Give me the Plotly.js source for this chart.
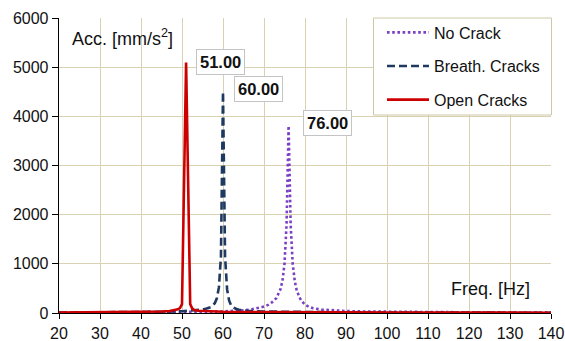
<!DOCTYPE html>
<html>
<head>
<meta charset="utf-8">
<script src="https://cdn.plot.ly/plotly-3.0.1.min.js"></script>
<style>html,body{margin:0;padding:0;background:#fff;}#chart{width:565px;height:341px;}</style>
</head>
<body>
<div id="chart"></div>
<script>
// Series names
var seriesNames = ["No Crack", "Breath. Cracks", "Open Cracks"];

// No Crack (peak at 76 Hz)
var freqNoCrack = [20, 30, 40, 50, 55, 60, 63, 65, 67, 69, 70, 71, 72, 73, 74, 74.5, 75, 75.5, 76, 76.5, 77, 77.5, 78, 79, 80, 81, 82, 84, 86, 90, 95, 100, 110, 120, 130, 140];
var accNoCrack  = [8, 10, 13, 18, 24, 32, 42, 55, 75, 105, 130, 165, 220, 300, 480, 650, 1000, 1800, 3805, 1800, 1000, 650, 450, 260, 170, 125, 95, 70, 55, 40, 30, 24, 18, 14, 11, 9];

// Breath. Cracks (peak at 60 Hz)
var freqBreath = [20, 30, 40, 45, 50, 53, 55, 56, 57, 58, 58.5, 59, 59.5, 60, 60.5, 61, 61.5, 62, 63, 64, 66, 70, 80, 90, 100, 120, 140];
var accBreath  = [10, 12, 18, 24, 35, 50, 70, 90, 120, 200, 300, 520, 1150, 4504, 1150, 480, 250, 150, 90, 62, 45, 30, 18, 13, 10, 7, 5];

// Open Cracks (peak at 51 Hz)
var freqOpen = [20, 25, 30, 35, 40, 45, 47, 48, 49, 49.5, 50, 51, 52, 52.5, 53, 54, 56, 60, 65, 70, 80, 90, 100, 110, 120, 130, 140];
var accOpen  = [10, 12, 14, 17, 21, 30, 40, 50, 75, 100, 180, 5095, 180, 90, 60, 45, 35, 26, 21, 17, 14, 12, 10, 9, 8, 7, 6];

// Peak labels
var peakFreqs  = [51, 60, 76];
var peakLabels = ["51.00", "60.00", "76.00"];
var peakAccs   = [5095, 4504, 3805];

// Axis ticks
var xTicks = [20, 30, 40, 50, 60, 70, 80, 90, 100, 110, 120, 130, 140];
var yTicks = [0, 1000, 2000, 3000, 4000, 5000, 6000];

var FONT = "Liberation Sans, Arial, sans-serif";
var GRID = "#d9d2b2";

var traces = [
  {x: freqNoCrack, y: accNoCrack, name: seriesNames[0], type: "scatter", mode: "lines",
   legendgroup: "a", line: {color: "#7b3fc4", width: 2.6, dash: "2.6px,2.6px"}},
  {x: freqBreath, y: accBreath, name: seriesNames[1], type: "scatter", mode: "lines",
   legendgroup: "b", line: {color: "#1f3a60", width: 2.6, dash: "8px,4px"}},
  {x: freqOpen, y: accOpen, name: seriesNames[2], type: "scatter", mode: "lines",
   legendgroup: "c", line: {color: "#cc0000", width: 2.6}}
];

// label offsets (in data units) from each peak
var labelDx = [8.5, 8.6, 9.6];
var labelDy = [10, 50, 60];

var annotations = [];
for (var i = 0; i < peakFreqs.length; i++) {
  annotations.push({
    x: peakFreqs[i] + labelDx[i], y: peakAccs[i] + labelDy[i], xref: "x", yref: "y",
    text: "<b>" + peakLabels[i] + "</b>", showarrow: false,
    font: {family: FONT, size: 16.5, color: "#111"},
    bgcolor: "#ffffff", bordercolor: "#c4c4c4", borderwidth: 1, borderpad: 3
  });
}
annotations.push({
  x: 0.022, y: 0.935, xref: "paper", yref: "paper", xanchor: "left", yanchor: "middle",
  text: "Acc. [mm/s<sup>2</sup>]", showarrow: false,
  font: {family: FONT, size: 18, color: "#111"}
});
annotations.push({
  x: 0.962, y: 0.08, xref: "paper", yref: "paper", xanchor: "right", yanchor: "middle",
  text: "Freq. [Hz]", showarrow: false,
  font: {family: FONT, size: 18, color: "#111"}
});

// plot area in px: left 59, right 551, top 18, bottom 313
var layout = {
  width: 565, height: 341,
  margin: {l: 59, r: 14, t: 18, b: 28, pad: 0},
  paper_bgcolor: "#ffffff", plot_bgcolor: "#ffffff",
  font: {family: FONT, size: 16, color: "#111"},
  showlegend: true,
  legend: {
    x: (382 - 59) / 492, y: (313 - 15.5) / 295, xanchor: "left", yanchor: "top",
    bgcolor: "rgba(0,0,0,0)", borderwidth: 0,
    font: {family: FONT, size: 16, color: "#111"},
    traceorder: "grouped", tracegroupgap: 9.8, itemwidth: 42
  },
  shapes: [{
    type: "rect", xref: "paper", yref: "paper", layer: "above",
    x0: (373.5 - 59) / 492, x1: (551.5 - 59) / 492,
    y0: (313 - 115) / 295, y1: 1,
    fillcolor: "#ffffff", line: {color: "#cfc8a8", width: 1}
  }],
  xaxis: {
    range: [20, 140], tickvals: xTicks, ticktext: xTicks.map(String),
    showgrid: true, gridcolor: GRID, gridwidth: 1,
    showline: true, linecolor: "#000", linewidth: 1.3,
    ticks: "outside", ticklen: 5, tickcolor: "#000",
    zeroline: false, tickfont: {family: FONT, size: 16, color: "#111"}
  },
  yaxis: {
    range: [0, 6000], tickvals: yTicks, ticktext: yTicks.map(String),
    showgrid: true, gridcolor: GRID, gridwidth: 1,
    showline: true, linecolor: "#000", linewidth: 1.3,
    ticks: "outside", ticklen: 6, tickcolor: "#000",
    zeroline: false, tickfont: {family: FONT, size: 16, color: "#111"}
  },
  annotations: annotations
};

Plotly.newPlot("chart", traces, layout, {displayModeBar: false, staticPlot: true});
</script>
</body>
</html>
